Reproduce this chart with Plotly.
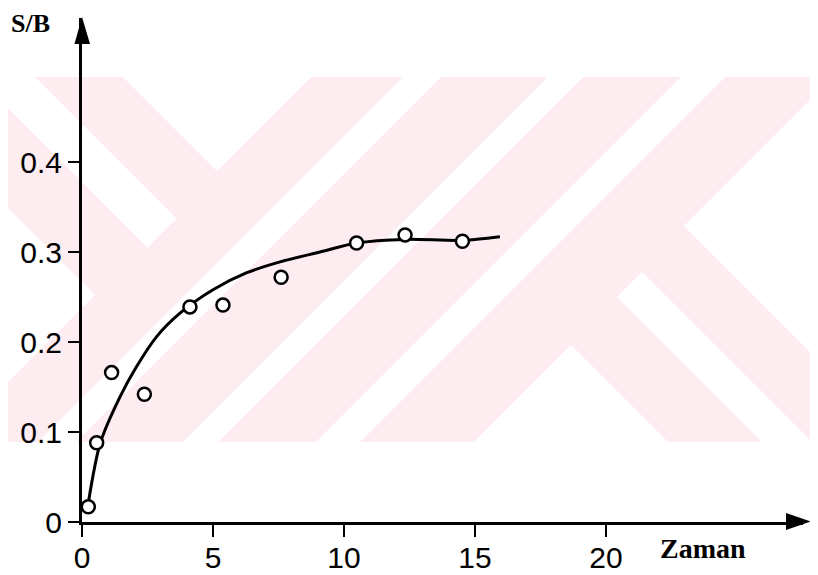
import plotly.graph_objects as go

# ---------------- data ----------------
time_pts = [0.24, 0.56, 1.13, 2.38, 4.12, 5.38, 7.60, 10.48, 12.33, 14.52]
sb_pts = [0.017, 0.088, 0.166, 0.142, 0.239, 0.241, 0.272, 0.310, 0.319, 0.312]

curve_x = [0.24, 0.69, 1.45, 2.09, 2.85, 3.74, 5.0, 6.29, 7.56, 9.08, 10.48, 12.33, 14.5, 15.95]
curve_y = [0.021, 0.087, 0.139, 0.173, 0.206, 0.232, 0.258, 0.277, 0.289, 0.300, 0.310, 0.314, 0.313, 0.317]

x_ticks = [0, 5, 10, 15, 20]
x_ticklabels = ["0", "5", "10", "15", "20"]
y_ticks = [0, 0.1, 0.2, 0.3, 0.4]
y_ticklabels = ["0", "0.1", "0.2", "0.3", "0.4"]

# ---------------- layout geometry (pixels) ----------------
W, H = 818, 575
OFF = 8  # page body margin: the figure is drawn 8px right/down in the window
AX_X, AX_Y, AX_END = 82, 522, 803  # window pixels of axes origin and plot right edge
L = AX_X - OFF
T = 18 - OFF
B = H - (AX_Y - OFF)
R = W - (AX_END - OFF)
PW = W - L - R
PH = H - T - B


def px2paper(X, Y):
    """window pixel -> paper coordinates"""
    return (X - AX_X) / PW, (AX_Y - Y) / PH


def clip(poly, a, b, c):
    """keep part of polygon where a*X + b*Y <= c"""
    out = []
    n = len(poly)
    for i in range(n):
        p, q = poly[i], poly[(i + 1) % n]
        fp = a * p[0] + b * p[1] - c
        fq = a * q[0] + b * q[1] - c
        if fp <= 0:
            out.append(p)
        if (fp <= 0) != (fq <= 0):
            t = fp / (fp - fq)
            out.append((p[0] + t * (q[0] - p[0]), p[1] + t * (q[1] - p[1])))
    return out


def path_from(poly):
    pts = [px2paper(X, Y) for X, Y in poly]
    return "M " + " L ".join(f"{x:.5f},{y:.5f}" for x, y in pts) + " Z"


band = [(0, 77), (818, 77), (818, 442), (0, 442)]
PINK = "#fdedf0"

# white regions of the watermark (half-planes in u=X+Y, v=Y-X)
white_regions = [
    [(1, -1, -42), (-1, 1, 100), (1, 1, 395)],
    [(-1, 1, -46), (1, 1, 388)],
    [(1, -1, -200), (1, 1, 390)],
    [(-1, -1, -480), (1, 1, 518)],
    [(-1, -1, -625), (1, 1, 660)],
    [(-1, -1, -758), (1, 1, 802)],
    [(-1, -1, -916), (1, -1, 226)],
    [(1, -1, 370), (-1, 1, -320), (-1, -1, -914)],
    [(-1, -1, -910), (-1, 1, -458)],
]

shapes = [dict(type="path", path=path_from(band), xref="paper", yref="paper",
               fillcolor=PINK, line=dict(width=0), layer="below")]
for reg in white_regions:
    poly = band[:]
    for a, b, c in reg:
        poly = clip(poly, a, b, c)
        if not poly:
            break
    if len(poly) >= 3:
        shapes.append(dict(type="path", path=path_from(poly), xref="paper", yref="paper",
                           fillcolor="white", line=dict(width=0), layer="below"))

# arrowheads
shapes.append(dict(type="path", path=path_from([(82, 17), (74.5, 44), (90, 44)]),
                   xref="paper", yref="paper", fillcolor="black", line=dict(width=0)))
shapes.append(dict(type="path", path=path_from([(811, 521.5), (786, 513), (786, 530)]),
                   xref="paper", yref="paper", fillcolor="black", line=dict(width=0)))

fig = go.Figure()
fig.add_trace(go.Scatter(x=curve_x, y=curve_y, mode="lines",
                         line=dict(color="black", width=3, shape="spline", smoothing=0.8),
                         hoverinfo="skip", showlegend=False))
fig.add_trace(go.Scatter(x=time_pts, y=sb_pts, mode="markers",
                         marker=dict(symbol="circle", size=13, color="white",
                                     line=dict(color="black", width=2.5)),
                         showlegend=False))

tick_font = dict(family="Liberation Sans", size=30, color="black")

fig.update_layout(
    width=W, height=H,
    margin=dict(l=L, r=R, t=T, b=B, pad=0, autoexpand=False),
    paper_bgcolor="white", plot_bgcolor="rgba(0,0,0,0)",
    shapes=shapes,
    xaxis=dict(range=[0, PW / 26.2], showgrid=False, zeroline=False, automargin=False,
               showline=True, linecolor="black", linewidth=3,
               ticks="outside", ticklen=12, tickwidth=2, tickcolor="black",
               ticklabelstandoff=-5,
               tickvals=x_ticks, ticktext=x_ticklabels, tickfont=tick_font),
    yaxis=dict(range=[0, PH / 900.0], showgrid=False, zeroline=False, automargin=False,
               showline=True, linecolor="black", linewidth=3,
               ticks="outside", ticklen=11, tickwidth=2, tickcolor="black",
               tickvals=y_ticks, ticktext=y_ticklabels, tickfont=tick_font),
    annotations=[
        dict(text="<b>S/B</b>", xref="paper", yref="paper",
             x=px2paper(10, 0)[0], y=px2paper(0, 8)[1], xanchor="left", yanchor="top",
             borderpad=0, showarrow=False,
             font=dict(family="Liberation Serif", size=26, color="black")),
        dict(text="<b>Zaman</b>", xref="paper", yref="paper",
             x=px2paper(658, 0)[0], y=px2paper(0, 548)[1], xanchor="left", yanchor="middle",
             showarrow=False, font=dict(family="Liberation Serif", size=28, color="black")),
    ],
)

fig.write_html("out.html")
